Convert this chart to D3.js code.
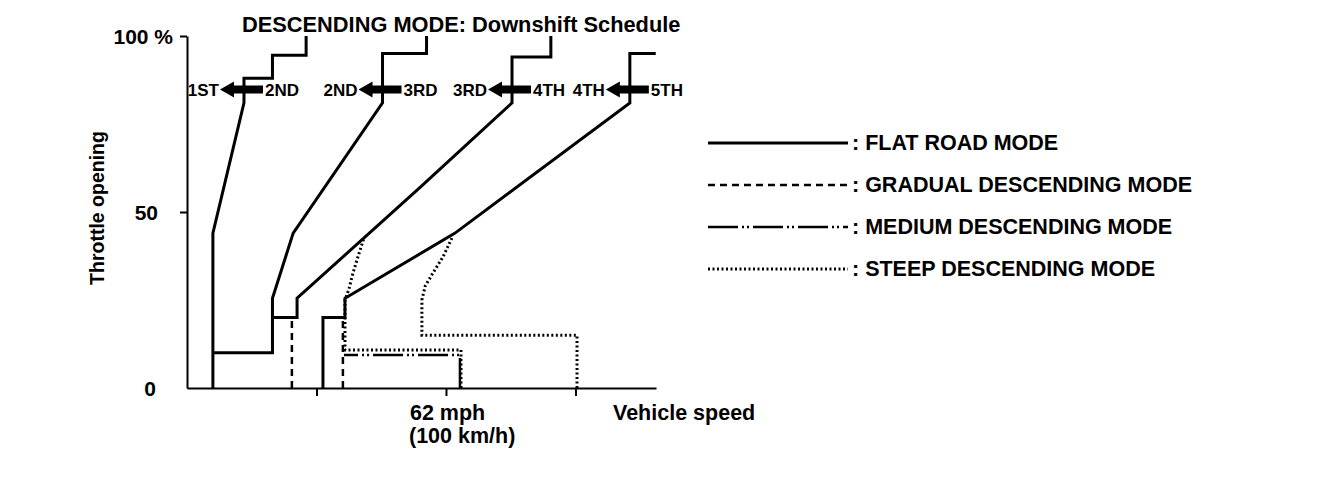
<!DOCTYPE html>
<html>
<head>
<meta charset="utf-8">
<script src="https://cdn.jsdelivr.net/npm/d3@7"></script>
<style>
  body { margin: 0; background: #fff; }
  svg { display: block; font-family: "Liberation Sans", Arial, sans-serif; font-weight: bold; }
  .axis path, .axis line { stroke: #000; stroke-width: 2; }
</style>
</head>
<body>
<div id="chart"></div>
<script>
// Data: [speed in km/h, throttle opening in %]
const speedTicks = [50, 100, 150];
const throttleTicks = [0, 50, 100];

const flatRoad = [
    [[10, 0], [10, 44], [22, 81], [22, 88], [33, 88], [33, 94.5], [46, 94.5], [46, 100]],
    [[10, 10], [33, 10], [33, 25.5], [41, 44], [75.5, 81], [75.5, 95], [92.5, 95], [92.5, 100]],
    [[33, 20], [42.5, 20], [42.5, 25.5], [90, 57], [125.5, 81], [125.5, 94], [140.5, 94], [140.5, 100]],
    [[52.5, 0], [52.5, 20], [61, 20], [61, 25.5], [103.5, 44], [171, 81], [171, 95], [181, 95]]
];
const gradual = [
    [[40.5, 0], [40.5, 20]],
    [[60.2, 0], [60.2, 20]]
];
const medium = [
    [[105.4, 0], [105.4, 9.4], [60.6, 9.4]]
];
const steep = [
    [[105.8, 0], [105.8, 10.8], [61, 10.8], [61, 25], [62.5, 28], [64.1, 32.7], [66, 37.2], [68.3, 42.6]],
    [[150.6, 0], [150.6, 15], [90.7, 15], [90.7, 25], [92, 29], [95, 32.7], [98.8, 37.2], [102.3, 42.6]]
];

// gear change labels and the speed where each arrow crosses its line
const shiftFrom = ['1ST', '2ND', '3RD', '4TH'];
const shiftTo = ['2ND', '3RD', '4TH', '5TH'];
const shiftSpeed = [22, 75.5, 125.5, 171];
const arrowThrottle = 84.8;

const legendNames = [': FLAT ROAD MODE', ': GRADUAL DESCENDING MODE', ': MEDIUM DESCENDING MODE', ': STEEP DESCENDING MODE'];

const width = 1328, height = 492;

const svg = d3.select('#chart')
    .append('svg')
    .attr('width', width)
    .attr('height', height);

const x = d3.scaleLinear().domain([0, 181.1]).range([187, 656]);
const y = d3.scaleLinear().domain([0, 100]).range([388, 36]);

// Line styles for each mode
const styles = {
    flat: { width: 3, dash: null },
    gradual: { width: 2.5, dash: '7,5' },
    medium: { width: 2.5, dash: '30,4,2,3,2,4' },
    steep: { width: 3, dash: '2,2.5' }
};

const line = d3.line().x(d => x(d[0])).y(d => y(d[1]));

function drawSeries(series, style) {
    svg.append('g')
        .selectAll('path')
        .data(series)
        .enter()
        .append('path')
        .attr('d', line)
        .attr('fill', 'none')
        .attr('stroke', '#000')
        .attr('stroke-width', style.width)
        .attr('stroke-linejoin', 'miter')
        .attr('stroke-dasharray', style.dash);
}

// Axes
const yAxis = svg.append('g')
    .attr('class', 'axis')
    .attr('transform', `translate(${x(0)},0)`)
    .call(d3.axisLeft(y).tickValues(throttleTicks).tickSize(7).tickSizeOuter(0)
        .tickFormat(d => d === 100 ? '100 %' : d));
yAxis.selectAll('text')
    .attr('font-size', 21)
    .attr('font-family', 'inherit')
    .attr('font-weight', 'bold')
    .attr('x', d => d === 100 ? -14 : (d === 0 ? -31 : -29))
    .attr('dy', '0.35em');
yAxis.selectAll('.tick').filter(d => d === 0).select('line').remove();

svg.append('g')
    .attr('class', 'axis')
    .attr('transform', `translate(0,${y(0)})`)
    .call(d3.axisBottom(x).tickValues(speedTicks).tickSize(8).tickSizeOuter(0).tickFormat(''));

drawSeries(gradual, styles.gradual);
drawSeries(medium, styles.medium);
drawSeries(steep, styles.steep);
drawSeries(flatRoad, styles.flat);

// Axis titles
svg.append('text')
    .attr('transform', `translate(104,${y(50) - 4}) rotate(-90)`)
    .attr('text-anchor', 'middle')
    .attr('font-size', 19.5)
    .text('Throttle opening');

svg.append('text')
    .attr('x', x(100) - 36).attr('y', 420)
    .attr('font-size', 21.5)
    .text('62 mph');
svg.append('text')
    .attr('x', x(100) - 37).attr('y', 443)
    .attr('font-size', 21.5)
    .text('(100 km/h)');
svg.append('text')
    .attr('x', 613).attr('y', 420)
    .attr('font-size', 21.5)
    .text('Vehicle speed');

svg.append('text')
    .attr('x', 242).attr('y', 32)
    .attr('font-size', 21.8)
    .text('DESCENDING MODE: Downshift Schedule');

// Downshift arrows
const ay = y(arrowThrottle);
const arrows = svg.append('g');
shiftSpeed.forEach((s, i) => {
    const cx = x(s);
    const tip = cx - 24, base = cx - 10, tail = cx + 19;
    arrows.append('path')
        .attr('d', `M${tip},${ay} L${base},${ay - 8} L${base},${ay - 4} L${tail},${ay - 4} L${tail},${ay + 4} L${base},${ay + 4} L${base},${ay + 8} Z`)
        .attr('fill', '#000');
    arrows.append('text')
        .attr('x', tip - 1).attr('y', ay + 6)
        .attr('text-anchor', 'end')
        .attr('font-size', 17)
        .text(shiftFrom[i]);
    arrows.append('text')
        .attr('x', tail + 2).attr('y', ay + 6)
        .attr('font-size', 17)
        .text(shiftTo[i]);
});

// Legend
const legendStyles = [styles.flat, styles.gradual, styles.medium, styles.steep];
const legend = svg.append('g')
    .selectAll('g')
    .data(legendNames)
    .enter()
    .append('g')
    .attr('transform', (d, i) => `translate(708,${143 + i * 42})`);

legend.append('line')
    .attr('x1', 0).attr('x2', 140)
    .attr('stroke', '#000')
    .attr('stroke-width', (d, i) => legendStyles[i].width)
    .attr('stroke-dasharray', (d, i) => legendStyles[i].dash);

legend.append('text')
    .attr('x', 144).attr('y', 7)
    .attr('font-size', 21.5)
    .text(d => d);
</script>
</body>
</html>
